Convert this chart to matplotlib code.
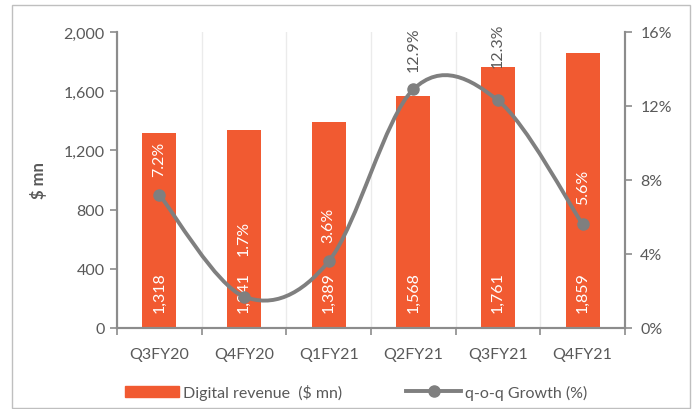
import matplotlib.pyplot as plt
from matplotlib.path import Path
from matplotlib.patches import PathPatch, Rectangle
from matplotlib.lines import Line2D
from matplotlib.ticker import FuncFormatter

quarters = ["Q3FY20", "Q4FY20", "Q1FY21", "Q2FY21", "Q3FY21", "Q4FY21"]
revenue = [1318, 1341, 1389, 1568, 1761, 1859]
growth = [7.2, 1.7, 3.6, 12.9, 12.3, 5.6]

# pixel gap above each growth point, and label colour (inside bar -> white)
growth_gap = [19, 42, 19, 18, 33, 20]
growth_color = ["white", "white", "white", "#595959", "#595959", "white"]

bar_color = "#F15A31"
line_color = "#7F7F7F"
text_color = "#595959"
axis_color = "#8C8C8C"
fs = 11.5

plt.rcParams["font.family"] = ["Lato", "DejaVu Sans"]

fig = plt.figure(figsize=(6.96, 4.10), dpi=100)
ax = fig.add_axes([117 / 696, 1 - 329 / 410, 508 / 696, 296 / 410])
ax2 = ax.twinx()

x = list(range(len(quarters)))
ax.bar(x, revenue, width=0.4, color=bar_color, zorder=2)
ax.set_xlim(-0.5, len(quarters) - 0.5)
ax.set_ylim(0, 2000)
ax.set_yticks(range(0, 2001, 400))
ax.yaxis.set_major_formatter(FuncFormatter(lambda v, p: f"{int(v):,}"))
ax.set_xticks(x)
ax.set_xticklabels(quarters)
ax.set_xticks([i - 0.5 for i in range(len(quarters) + 1)], minor=True)
ax.tick_params(axis="x", which="major", length=0, pad=14, colors=text_color, labelsize=fs)
ax.tick_params(axis="x", which="minor", length=5, width=1.2, color=axis_color)
ax.tick_params(axis="y", length=5, width=1.2, color=axis_color, labelcolor=text_color, labelsize=fs, pad=4)
ax.grid(True, axis="x", which="minor", color="#EBEBEB", lw=1, zorder=0)
ax.set_axisbelow(True)
ax.set_ylabel("$ mn", fontsize=12, fontweight="bold", color=text_color, labelpad=12)

for s in ["top"]:
    ax.spines[s].set_visible(False)
    ax2.spines[s].set_visible(False)
for a in (ax, ax2):
    for s in ["left", "right", "bottom"]:
        a.spines[s].set_color(axis_color)
        a.spines[s].set_linewidth(1.5)

for i, v in enumerate(revenue):
    ax.annotate(f"{v:,}", (i, 0), xytext=(0, 16), textcoords="offset pixels",
                rotation=90, ha="center", va="bottom", color="white", fontsize=fs, zorder=5)

# smoothed line, Catmull-Rom style bezier through the points
pts = list(zip(x, growth))
verts = [pts[0]]
codes = [Path.MOVETO]
n = len(pts)
for i in range(n - 1):
    p0 = pts[max(i - 1, 0)]
    p1 = pts[i]
    p2 = pts[i + 1]
    p3 = pts[min(i + 2, n - 1)]
    c1 = (p1[0] + (p2[0] - p0[0]) / 6, p1[1] + (p2[1] - p0[1]) / 6)
    c2 = (p2[0] - (p3[0] - p1[0]) / 6, p2[1] - (p3[1] - p1[1]) / 6)
    verts += [c1, c2, p2]
    codes += [Path.CURVE4] * 3
ax2.add_patch(PathPatch(Path(verts, codes), fill=False, edgecolor=line_color, lw=2.8, zorder=3))
ax2.plot(x, growth, "o", color=line_color, ms=8, zorder=4)
ax2.set_ylim(0, 16)
ax2.set_yticks(range(0, 17, 4))
ax2.yaxis.set_major_formatter(FuncFormatter(lambda v, p: f"{int(v)}%"))
ax2.tick_params(axis="y", length=5, width=1.2, color=axis_color, labelcolor=text_color, labelsize=fs, pad=6)

for i, g in enumerate(growth):
    ax2.annotate(f"{g}%", (i, g), xytext=(0, growth_gap[i]), textcoords="offset pixels",
                 rotation=90, ha="center", va="bottom", color=growth_color[i], fontsize=fs, zorder=6)

handles = [Rectangle((0, 0), 1, 1, color=bar_color),
           Line2D([0], [0], color=line_color, lw=2.8, marker="o", ms=8)]
fig.legend(handles, ["Digital revenue  ($ mn)", "q-o-q Growth (%)"], loc="center",
           bbox_to_anchor=(356 / 696, 1 - 393 / 410), ncol=2, frameon=False,
           fontsize=fs, labelcolor=text_color, handlelength=3.4, handletextpad=0.25,
           columnspacing=4.0)

fig.patches.append(Rectangle((12 / 696, 0.002), 678 / 696, 1 - 6 / 410 - 0.002,
                             transform=fig.transFigure, fill=False, edgecolor="#BFBFBF", lw=1))

fig.savefig("out.png", dpi=100)
